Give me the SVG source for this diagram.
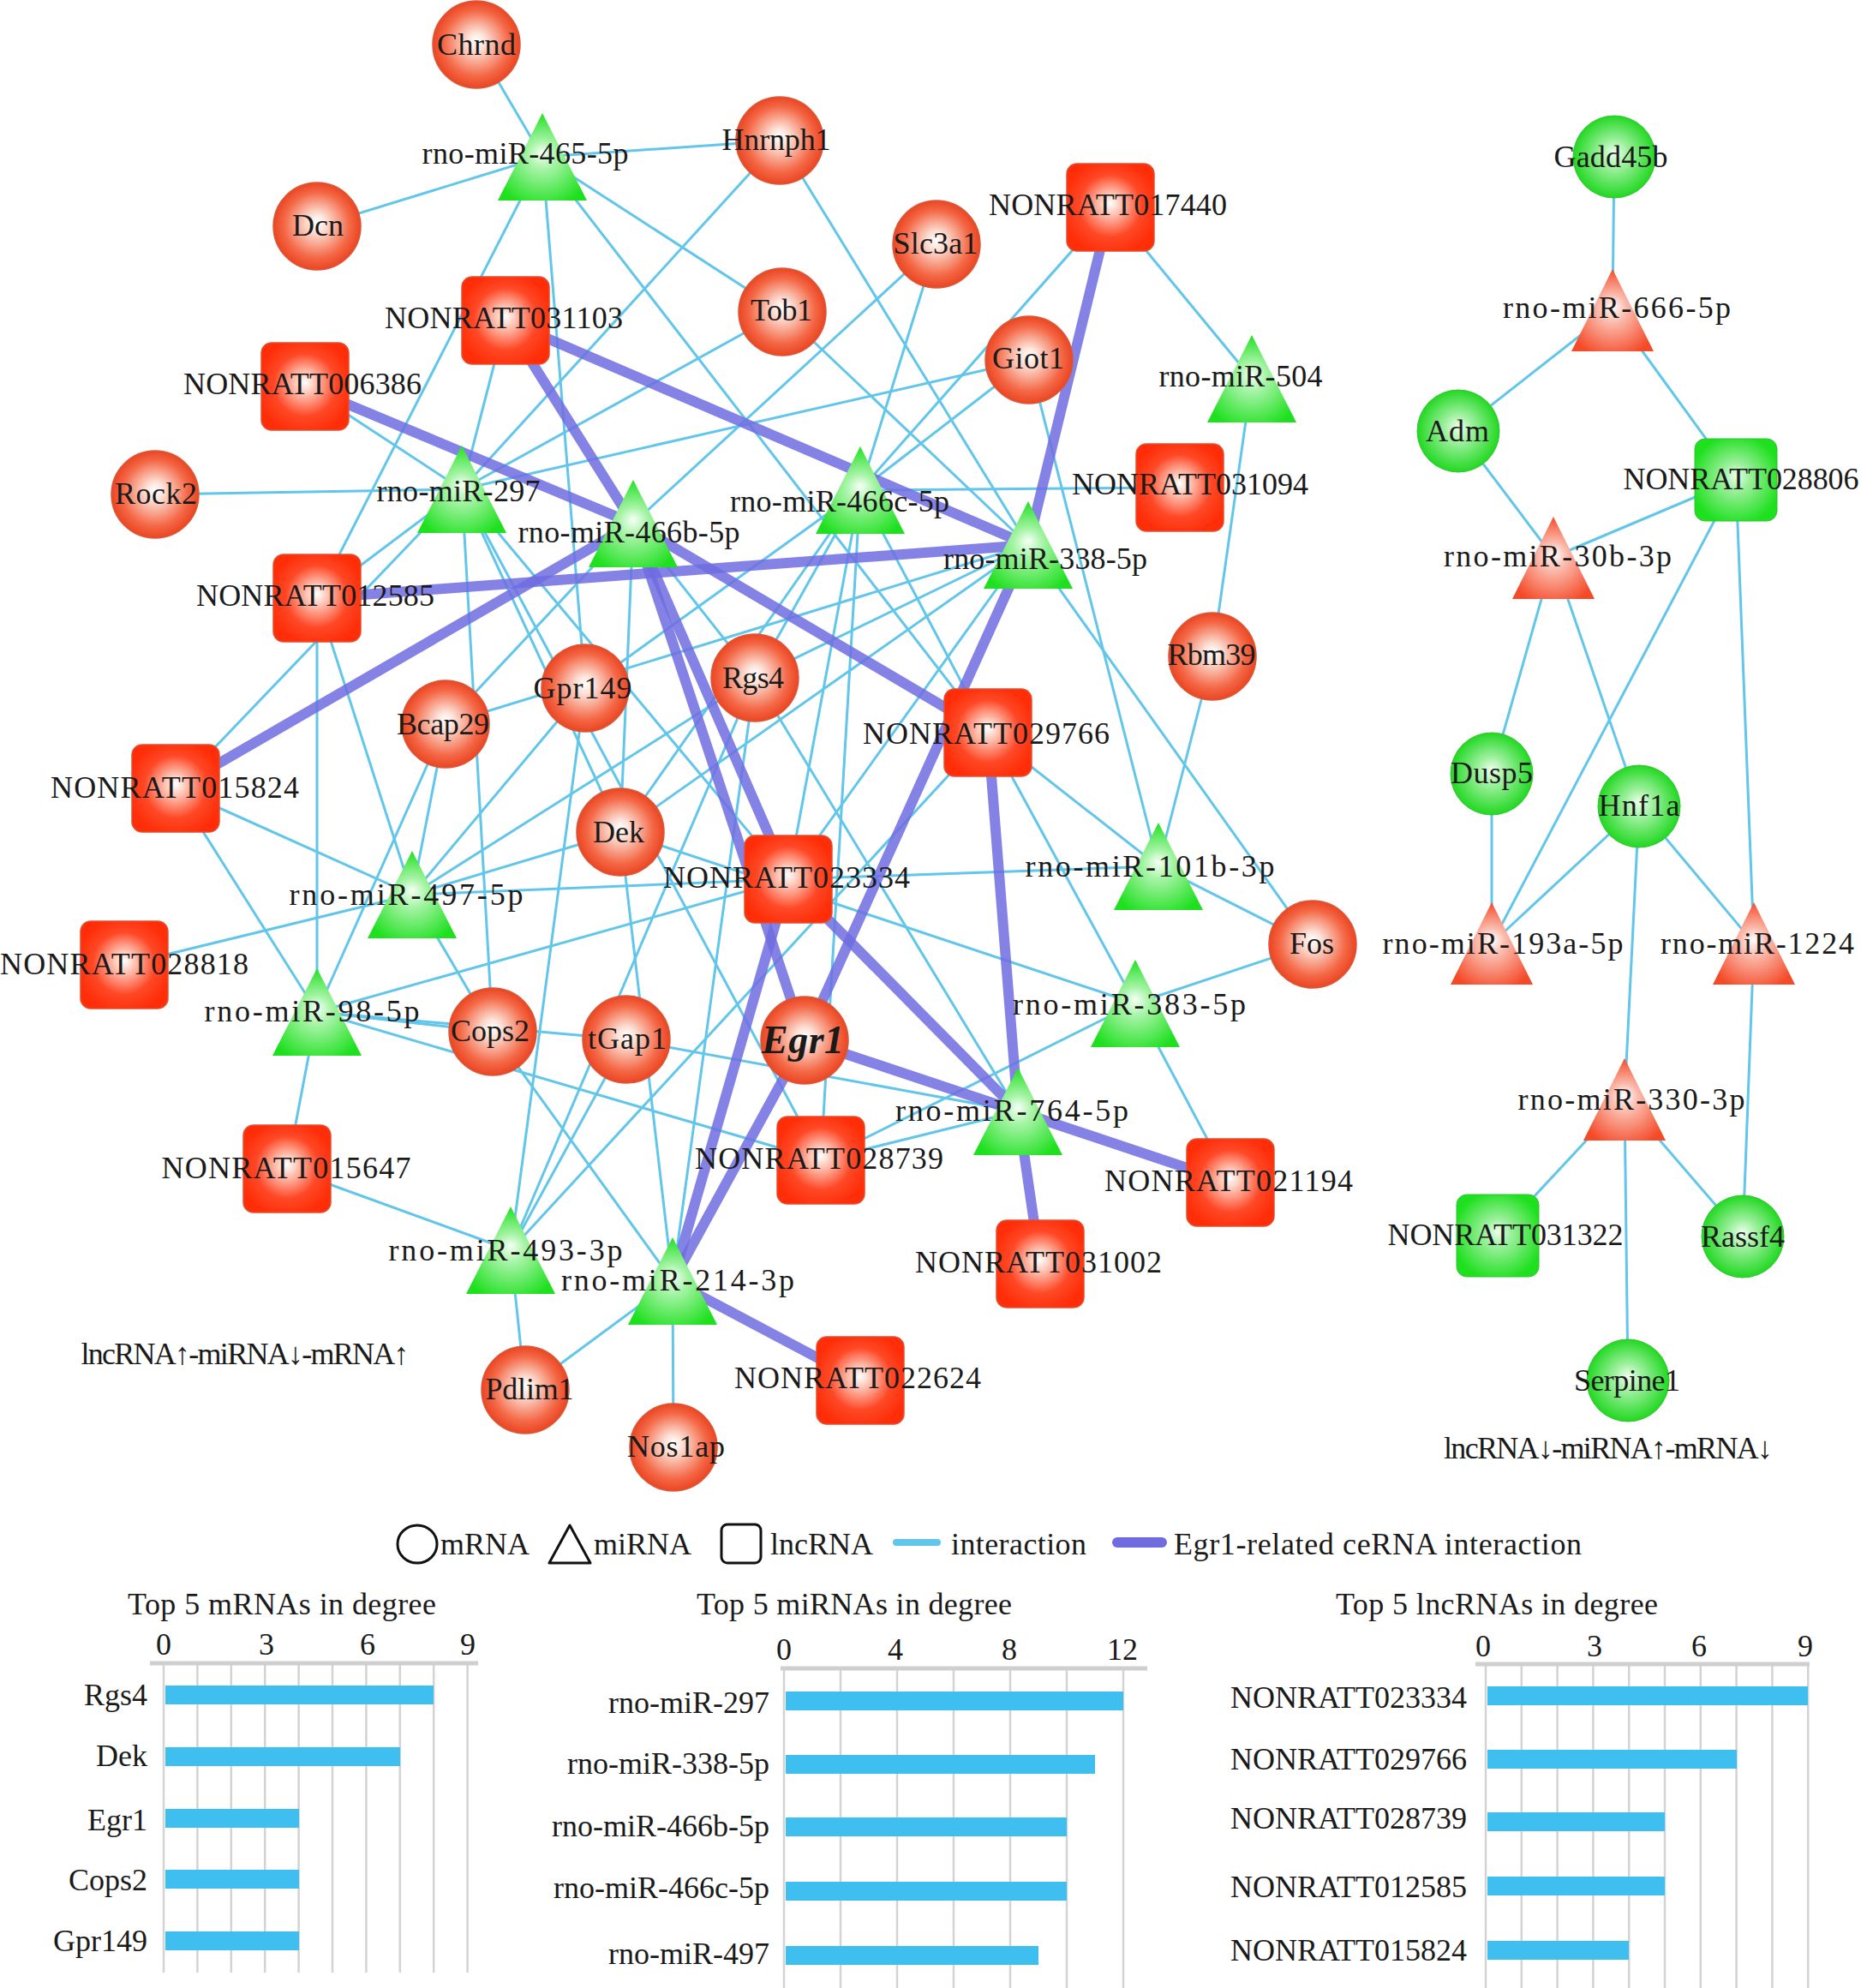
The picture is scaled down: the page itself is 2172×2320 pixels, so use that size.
<svg xmlns="http://www.w3.org/2000/svg" width="2172" height="2320" viewBox="0 0 2172 2320">
<defs>
<radialGradient id="gR" cx="0.5" cy="0.5" r="0.5" fx="0.5" fy="0.45">
<stop offset="0" stop-color="#ffffff"/><stop offset="0.2" stop-color="#fde2d8"/><stop offset="0.75" stop-color="#f46846"/><stop offset="1" stop-color="#eb4522"/>
</radialGradient>
<radialGradient id="gS" cx="0.5" cy="0.5" r="0.55" fx="0.5" fy="0.45">
<stop offset="0" stop-color="#ffffff"/><stop offset="0.15" stop-color="#ffd8cc"/><stop offset="0.65" stop-color="#ff4826"/><stop offset="1" stop-color="#ff2e08"/>
</radialGradient>
<radialGradient id="gG" cx="0.5" cy="0.55" r="0.55" fx="0.5" fy="0.45">
<stop offset="0" stop-color="#f6fff6"/><stop offset="0.3" stop-color="#a6f4a6"/><stop offset="1" stop-color="#1fe01f"/>
</radialGradient>
<radialGradient id="gRT" cx="0.5" cy="0.55" r="0.55" fx="0.5" fy="0.45">
<stop offset="0" stop-color="#ffffff"/><stop offset="0.3" stop-color="#fbbcae"/><stop offset="1" stop-color="#f44a28"/>
</radialGradient>
<radialGradient id="gGC" cx="0.5" cy="0.5" r="0.5" fx="0.5" fy="0.45">
<stop offset="0" stop-color="#eeffee"/><stop offset="0.35" stop-color="#9cf09c"/><stop offset="1" stop-color="#22d822"/>
</radialGradient>
<radialGradient id="gGS" cx="0.5" cy="0.5" r="0.55" fx="0.5" fy="0.45">
<stop offset="0" stop-color="#eeffee"/><stop offset="0.3" stop-color="#9cf09c"/><stop offset="1" stop-color="#1ee01e"/>
</radialGradient>
</defs>
<style>
.e{stroke:#62c6ea;stroke-width:3;fill:none}
.t{stroke:#6f6ce0;stroke-width:12;stroke-opacity:0.85;stroke-linecap:round}
.cr{fill:url(#gR);stroke:#d8583a;stroke-width:1.5}
.sq{fill:url(#gS);stroke:#e05030;stroke-width:1.5}
.tg{fill:url(#gG)}
.tr{fill:url(#gRT)}
.cg{fill:url(#gGC);stroke:#33c433;stroke-width:1}
.sg{fill:url(#gGS);stroke:#33c433;stroke-width:1}
text{font-family:"Liberation Serif","Times New Roman",serif;font-size:36px;fill:#1a1a1a}
.l{text-anchor:middle}
.r{text-anchor:end}
.grid{stroke:#d3d3d3;stroke-width:2.5}
.ax{stroke:#cfcfcf;stroke-width:5}
.bar{fill:#3ebff0}
</style>
<rect width="2172" height="2320" fill="#ffffff"/>
<g id="edges">
<g id="thin">
<line class="e" x1="633" y1="183" x2="556" y2="52"/>
<line class="e" x1="633" y1="183" x2="370" y2="264"/>
<line class="e" x1="633" y1="183" x2="910" y2="164"/>
<line class="e" x1="633" y1="183" x2="913" y2="364"/>
<line class="e" x1="633" y1="183" x2="370" y2="698"/>
<line class="e" x1="633" y1="183" x2="683" y2="803"/>
<line class="e" x1="633" y1="183" x2="1153" y2="855"/>
<line class="e" x1="1461" y1="442" x2="1296" y2="242"/>
<line class="e" x1="1461" y1="442" x2="1415" y2="766"/>
<line class="e" x1="539" y1="571" x2="181" y2="577"/>
<line class="e" x1="539" y1="571" x2="910" y2="164"/>
<line class="e" x1="539" y1="571" x2="913" y2="364"/>
<line class="e" x1="539" y1="571" x2="1201" y2="420"/>
<line class="e" x1="539" y1="571" x2="356" y2="451"/>
<line class="e" x1="539" y1="571" x2="370" y2="698"/>
<line class="e" x1="539" y1="571" x2="205" y2="920"/>
<line class="e" x1="539" y1="571" x2="575" y2="1204"/>
<line class="e" x1="539" y1="571" x2="724" y2="971"/>
<line class="e" x1="539" y1="571" x2="958" y2="1354"/>
<line class="e" x1="539" y1="571" x2="920" y2="1026"/>
<line class="e" x1="539" y1="571" x2="590" y2="374"/>
<line class="e" x1="739" y1="611" x2="1093" y2="285"/>
<line class="e" x1="739" y1="611" x2="520" y2="845"/>
<line class="e" x1="739" y1="611" x2="881" y2="791"/>
<line class="e" x1="739" y1="611" x2="724" y2="971"/>
<line class="e" x1="1004" y1="572" x2="1296" y2="242"/>
<line class="e" x1="1004" y1="572" x2="1201" y2="420"/>
<line class="e" x1="1004" y1="572" x2="1093" y2="285"/>
<line class="e" x1="1004" y1="572" x2="881" y2="791"/>
<line class="e" x1="1004" y1="572" x2="1153" y2="855"/>
<line class="e" x1="1004" y1="572" x2="683" y2="803"/>
<line class="e" x1="1004" y1="572" x2="724" y2="971"/>
<line class="e" x1="1004" y1="572" x2="920" y2="1026"/>
<line class="e" x1="1004" y1="572" x2="958" y2="1354"/>
<line class="e" x1="1004" y1="572" x2="1377" y2="569"/>
<line class="e" x1="1200" y1="636" x2="910" y2="164"/>
<line class="e" x1="1200" y1="636" x2="913" y2="364"/>
<line class="e" x1="1200" y1="636" x2="881" y2="791"/>
<line class="e" x1="1200" y1="636" x2="520" y2="845"/>
<line class="e" x1="1200" y1="636" x2="1532" y2="1102"/>
<line class="e" x1="1200" y1="636" x2="724" y2="971"/>
<line class="e" x1="1200" y1="636" x2="920" y2="1026"/>
<line class="e" x1="1352" y1="1011" x2="1201" y2="420"/>
<line class="e" x1="1352" y1="1011" x2="1415" y2="766"/>
<line class="e" x1="1352" y1="1011" x2="1532" y2="1102"/>
<line class="e" x1="1352" y1="1011" x2="1153" y2="855"/>
<line class="e" x1="1352" y1="1011" x2="920" y2="1026"/>
<line class="e" x1="481" y1="1044" x2="370" y2="698"/>
<line class="e" x1="481" y1="1044" x2="205" y2="920"/>
<line class="e" x1="481" y1="1044" x2="145" y2="1126"/>
<line class="e" x1="481" y1="1044" x2="520" y2="845"/>
<line class="e" x1="481" y1="1044" x2="683" y2="803"/>
<line class="e" x1="481" y1="1044" x2="575" y2="1204"/>
<line class="e" x1="481" y1="1044" x2="881" y2="791"/>
<line class="e" x1="481" y1="1044" x2="724" y2="971"/>
<line class="e" x1="481" y1="1044" x2="920" y2="1026"/>
<line class="e" x1="370" y1="1181" x2="370" y2="698"/>
<line class="e" x1="370" y1="1181" x2="205" y2="920"/>
<line class="e" x1="370" y1="1181" x2="335" y2="1364"/>
<line class="e" x1="370" y1="1181" x2="520" y2="845"/>
<line class="e" x1="370" y1="1181" x2="575" y2="1204"/>
<line class="e" x1="370" y1="1181" x2="731" y2="1213"/>
<line class="e" x1="370" y1="1181" x2="958" y2="1354"/>
<line class="e" x1="370" y1="1181" x2="920" y2="1026"/>
<line class="e" x1="1325" y1="1171" x2="1153" y2="855"/>
<line class="e" x1="1325" y1="1171" x2="1532" y2="1102"/>
<line class="e" x1="1325" y1="1171" x2="1436" y2="1380"/>
<line class="e" x1="1325" y1="1171" x2="958" y2="1354"/>
<line class="e" x1="1325" y1="1171" x2="724" y2="971"/>
<line class="e" x1="1188" y1="1297" x2="958" y2="1354"/>
<line class="e" x1="1188" y1="1297" x2="881" y2="791"/>
<line class="e" x1="1188" y1="1297" x2="731" y2="1213"/>
<line class="e" x1="596" y1="1459" x2="335" y2="1364"/>
<line class="e" x1="596" y1="1459" x2="613" y2="1622"/>
<line class="e" x1="596" y1="1459" x2="683" y2="803"/>
<line class="e" x1="596" y1="1459" x2="731" y2="1213"/>
<line class="e" x1="596" y1="1459" x2="881" y2="791"/>
<line class="e" x1="596" y1="1459" x2="1153" y2="855"/>
<line class="e" x1="785" y1="1495" x2="786" y2="1689"/>
<line class="e" x1="785" y1="1495" x2="613" y2="1622"/>
<line class="e" x1="785" y1="1495" x2="575" y2="1204"/>
<line class="e" x1="785" y1="1495" x2="881" y2="791"/>
<line class="e" x1="785" y1="1495" x2="724" y2="971"/>
<line class="e" x1="1884" y1="183" x2="1882" y2="362"/>
<line class="e" x1="1882" y1="362" x2="1702" y2="503"/>
<line class="e" x1="1882" y1="362" x2="2026" y2="560"/>
<line class="e" x1="1702" y1="503" x2="1813" y2="650"/>
<line class="e" x1="2026" y1="560" x2="1813" y2="650"/>
<line class="e" x1="1813" y1="650" x2="1741" y2="903"/>
<line class="e" x1="1813" y1="650" x2="1913" y2="941"/>
<line class="e" x1="2026" y1="560" x2="1741" y2="1101"/>
<line class="e" x1="2026" y1="560" x2="2047" y2="1101"/>
<line class="e" x1="1741" y1="903" x2="1741" y2="1101"/>
<line class="e" x1="1913" y1="941" x2="1741" y2="1101"/>
<line class="e" x1="1913" y1="941" x2="2047" y2="1101"/>
<line class="e" x1="1913" y1="941" x2="1896" y2="1283"/>
<line class="e" x1="2047" y1="1101" x2="2034" y2="1443"/>
<line class="e" x1="1896" y1="1283" x2="1748" y2="1442"/>
<line class="e" x1="1896" y1="1283" x2="2034" y2="1443"/>
<line class="e" x1="1896" y1="1283" x2="1900" y2="1611"/>
</g>
<g id="thick">
<line class="t" x1="590" y1="374" x2="739" y2="611"/>
<line class="t" x1="590" y1="374" x2="1200" y2="636"/>
<line class="t" x1="356" y1="451" x2="739" y2="611"/>
<line class="t" x1="370" y1="698" x2="1200" y2="636"/>
<line class="t" x1="205" y1="920" x2="739" y2="611"/>
<line class="t" x1="1296" y1="242" x2="1200" y2="636"/>
<line class="t" x1="739" y1="611" x2="1153" y2="855"/>
<line class="t" x1="739" y1="611" x2="939" y2="1214"/>
<line class="t" x1="739" y1="611" x2="920" y2="1026"/>
<line class="t" x1="1200" y1="636" x2="939" y2="1214"/>
<line class="t" x1="1153" y1="855" x2="1188" y2="1297"/>
<line class="t" x1="920" y1="1026" x2="1188" y2="1297"/>
<line class="t" x1="920" y1="1026" x2="785" y2="1495"/>
<line class="t" x1="939" y1="1214" x2="1188" y2="1297"/>
<line class="t" x1="939" y1="1214" x2="785" y2="1495"/>
<line class="t" x1="1188" y1="1297" x2="1436" y2="1380"/>
<line class="t" x1="1188" y1="1297" x2="1214" y2="1475"/>
<line class="t" x1="785" y1="1495" x2="1004" y2="1611"/>
</g>
</g>
<g id="nodes">
<g id="Chrnd"><circle class="cr" cx="556" cy="52" r="51"/><text class="l" x="556" y="64" textLength="92">Chrnd</text></g>
<g id="Hnrnph1"><circle class="cr" cx="910" cy="164" r="51"/><text class="l" x="906" y="175" textLength="127">Hnrnph1</text></g>
<g id="Dcn"><circle class="cr" cx="370" cy="264" r="51"/><text class="l" x="371" y="275">Dcn</text></g>
<g id="Slc3a1"><circle class="cr" cx="1093" cy="285" r="51"/><text class="l" x="1092" y="296" textLength="99">Slc3a1</text></g>
<g id="Tob1"><circle class="cr" cx="913" cy="364" r="51"/><text class="l" x="912" y="374" textLength="72">Tob1</text></g>
<g id="Giot1"><circle class="cr" cx="1201" cy="420" r="51"/><text class="l" x="1200" y="430" textLength="84">Giot1</text></g>
<g id="Rock2"><circle class="cr" cx="181" cy="577" r="51"/><text class="l" x="182" y="588" textLength="96">Rock2</text></g>
<g id="Rbm39"><circle class="cr" cx="1415" cy="766" r="51"/><text class="l" x="1414" y="776" textLength="103">Rbm39</text></g>
<g id="Rgs4"><circle class="cr" cx="881" cy="791" r="51"/><text class="l" x="879" y="803" textLength="72">Rgs4</text></g>
<g id="Gpr149"><circle class="cr" cx="683" cy="803" r="51"/><text class="l" x="680" y="815" textLength="115">Gpr149</text></g>
<g id="Bcap29"><circle class="cr" cx="520" cy="845" r="51"/><text class="l" x="517" y="857" textLength="108">Bcap29</text></g>
<g id="Dek"><circle class="cr" cx="724" cy="971" r="51"/><text class="l" x="722" y="983">Dek</text></g>
<g id="Fos"><circle class="cr" cx="1532" cy="1102" r="51"/><text class="l" x="1531" y="1113">Fos</text></g>
<g id="Cops2"><circle class="cr" cx="575" cy="1204" r="51"/><text class="l" x="572" y="1215" textLength="92">Cops2</text></g>
<g id="tGap1"><circle class="cr" cx="731" cy="1213" r="51"/><text class="l" x="732" y="1224" textLength="92">tGap1</text></g>
<g id="Egr1"><circle class="cr" cx="939" cy="1214" r="51"/><text class="l" x="937" y="1229" textLength="96" style="font-weight:bold;font-style:italic;font-size:46px">Egr1</text></g>
<g id="Pdlim1"><circle class="cr" cx="613" cy="1622" r="51"/><text class="l" x="618" y="1633" textLength="103">Pdlim1</text></g>
<g id="Nos1ap"><circle class="cr" cx="786" cy="1689" r="51"/><text class="l" x="789" y="1700" textLength="114">Nos1ap</text></g>

<g id="NONRATT017440"><rect class="sq" x="1245" y="191" width="102" height="102" rx="12"/><text class="l" x="1293" y="251" textLength="278">NONRATT017440</text></g>
<g id="NONRATT031103"><rect class="sq" x="539" y="323" width="102" height="102" rx="12"/><text class="l" x="588" y="383" textLength="278">NONRATT031103</text></g>
<g id="NONRATT006386"><rect class="sq" x="305" y="400" width="102" height="102" rx="12"/><text class="l" x="353" y="460" textLength="278">NONRATT006386</text></g>
<g id="NONRATT031094"><rect class="sq" x="1326" y="518" width="102" height="102" rx="12"/><text class="l" x="1389" y="577" textLength="276">NONRATT031094</text></g>
<g id="NONRATT012585"><rect class="sq" x="319" y="647" width="102" height="102" rx="12"/><text class="l" x="368" y="707" textLength="278">NONRATT012585</text></g>
<g id="NONRATT029766"><rect class="sq" x="1102" y="804" width="102" height="102" rx="12"/><text class="l" x="1151" y="868" textLength="288">NONRATT029766</text></g>
<g id="NONRATT015824"><rect class="sq" x="154" y="869" width="102" height="102" rx="12"/><text class="l" x="204" y="931" textLength="290">NONRATT015824</text></g>
<g id="NONRATT023334"><rect class="sq" x="869" y="975" width="102" height="102" rx="12"/><text class="l" x="918" y="1036" textLength="288">NONRATT023334</text></g>
<g id="NONRATT028818"><rect class="sq" x="94" y="1075" width="102" height="102" rx="12"/><text class="l" x="145" y="1137" textLength="290">NONRATT028818</text></g>
<g id="NONRATT015647"><rect class="sq" x="284" y="1313" width="102" height="102" rx="12"/><text class="l" x="334" y="1375" textLength="291">NONRATT015647</text></g>
<g id="NONRATT028739"><rect class="sq" x="907" y="1303" width="102" height="102" rx="12"/><text class="l" x="956" y="1364" textLength="290">NONRATT028739</text></g>
<g id="NONRATT021194"><rect class="sq" x="1385" y="1329" width="102" height="102" rx="12"/><text class="l" x="1434" y="1390" textLength="290">NONRATT021194</text></g>
<g id="NONRATT031002"><rect class="sq" x="1163" y="1424" width="102" height="102" rx="12"/><text class="l" x="1212" y="1485" textLength="288">NONRATT031002</text></g>
<g id="NONRATT022624"><rect class="sq" x="953" y="1560" width="102" height="102" rx="12"/><text class="l" x="1001" y="1620" textLength="288">NONRATT022624</text></g>

<g id="miR-465-5p"><polygon class="tg" points="633,132 581,234 685,234"/><text class="l" x="613" y="191" textLength="241">rno-miR-465-5p</text></g>
<g id="miR-504"><polygon class="tg" points="1461,391 1409,493 1513,493"/><text class="l" x="1448" y="451" textLength="191">rno-miR-504</text></g>
<g id="miR-297"><polygon class="tg" points="539,520 487,622 591,622"/><text class="l" x="535" y="585" textLength="191">rno-miR-297</text></g>
<g id="miR-466b-5p"><polygon class="tg" points="739,560 687,662 791,662"/><text class="l" x="734" y="633" textLength="259">rno-miR-466b-5p</text></g>
<g id="miR-466c-5p"><polygon class="tg" points="1004,521 952,623 1056,623"/><text class="l" x="980" y="597" textLength="256">rno-miR-466c-5p</text></g>
<g id="miR-338-5p"><polygon class="tg" points="1200,585 1148,687 1252,687"/><text class="l" x="1220" y="664" textLength="238">rno-miR-338-5p</text></g>
<g id="miR-101b-3p"><polygon class="tg" points="1352,960 1300,1062 1404,1062"/><text class="l" x="1342" y="1023" textLength="291">rno-miR-101b-3p</text></g>
<g id="miR-383-5p"><polygon class="tg" points="1325,1120 1273,1222 1377,1222"/><text class="l" x="1318" y="1184" textLength="272">rno-miR-383-5p</text></g>
<g id="miR-497-5p"><polygon class="tg" points="481,993 429,1095 533,1095"/><text class="l" x="474" y="1056" textLength="273">rno-miR-497-5p</text></g>
<g id="miR-98-5p"><polygon class="tg" points="370,1130 318,1232 422,1232"/><text class="l" x="364" y="1192" textLength="251">rno-miR-98-5p</text></g>
<g id="miR-764-5p"><polygon class="tg" points="1188,1246 1136,1348 1240,1348"/><text class="l" x="1181" y="1308" textLength="272">rno-miR-764-5p</text></g>
<g id="miR-493-3p"><polygon class="tg" points="596,1408 544,1510 648,1510"/><text class="l" x="590" y="1471" textLength="273">rno-miR-493-3p</text></g>
<g id="miR-214-3p"><polygon class="tg" points="785,1444 733,1546 837,1546"/><text class="l" x="791" y="1506" textLength="272">rno-miR-214-3p</text></g>

<g id="Gadd45b"><circle class="cg" cx="1884" cy="183" r="48"/><text class="l" x="1880" y="195" textLength="133">Gadd45b</text></g>
<g id="Adm"><circle class="cg" cx="1702" cy="503" r="48"/><text class="l" x="1701" y="515" textLength="74">Adm</text></g>
<g id="Dusp5"><circle class="cg" cx="1741" cy="903" r="48"/><text class="l" x="1741" y="914" textLength="96">Dusp5</text></g>
<g id="Hnf1a"><circle class="cg" cx="1913" cy="941" r="48"/><text class="l" x="1913" y="952" textLength="95">Hnf1a</text></g>
<g id="Rassf4"><circle class="cg" cx="2034" cy="1443" r="48"/><text class="l" x="2034" y="1455" textLength="98">Rassf4</text></g>
<g id="Serpine1"><circle class="cg" cx="1900" cy="1611" r="48"/><text class="l" x="1899" y="1623" textLength="124">Serpine1</text></g>
<g id="NONRATT028806"><rect class="sg" x="1978" y="512" width="96" height="96" rx="12"/><text class="l" x="2032" y="571" textLength="275">NONRATT028806</text></g>
<g id="NONRATT031322"><rect class="sg" x="1700" y="1394" width="96" height="96" rx="12"/><text class="l" x="1757" y="1453" textLength="275">NONRATT031322</text></g>
<g id="miR-666-5p"><polygon class="tr" points="1882,314 1834,410 1930,410"/><text class="l" x="1887" y="371" textLength="266">rno-miR-666-5p</text></g>
<g id="miR-30b-3p"><polygon class="tr" points="1813,603 1765,699 1861,699"/><text class="l" x="1818" y="661" textLength="266">rno-miR-30b-3p</text></g>
<g id="miR-193a-5p"><polygon class="tr" points="1741,1053 1693,1149 1789,1149"/><text class="l" x="1754" y="1113" textLength="281">rno-miR-193a-5p</text></g>
<g id="miR-1224"><polygon class="tr" points="2047,1053 1999,1149 2095,1149"/><text class="l" x="2051" y="1113" textLength="226">rno-miR-1224</text></g>
<g id="miR-330-3p"><polygon class="tr" points="1896,1235 1848,1331 1944,1331"/><text class="l" x="1904" y="1295" textLength="265">rno-miR-330-3p</text></g>
</g>

<g id="group-labels">
<text class="l" x="286" y="1592" textLength="383">lncRNA↑-miRNA↓-mRNA↑</text>
<text class="l" x="1877" y="1702" textLength="384">lncRNA↓-miRNA↑-mRNA↓</text>
</g>

<g id="legend">
<ellipse cx="487" cy="1802" rx="23" ry="22" fill="none" stroke="#111" stroke-width="3"/>
<text x="514" y="1814">mRNA</text>
<polygon points="665,1780 641,1824 689,1824" fill="none" stroke="#111" stroke-width="3" stroke-linejoin="round"/>
<text x="693" y="1814">miRNA</text>
<rect x="842" y="1779" width="46" height="45" rx="7" fill="none" stroke="#111" stroke-width="3"/>
<text x="899" y="1814">lncRNA</text>
<line x1="1046" y1="1800" x2="1094" y2="1800" stroke="#62c6ea" stroke-width="8" stroke-linecap="round"/>
<text x="1110" y="1814" textLength="158">interaction</text>
<line x1="1304" y1="1800" x2="1356" y2="1800" stroke="#6f6ce0" stroke-width="12" stroke-linecap="round"/>
<text x="1370" y="1814" textLength="476">Egr1-related ceRNA interaction</text>
</g>

<g id="chart-mrna">
<text class="l" x="329" y="1884" textLength="360">Top 5 mRNAs in degree</text>
<g class="grid">
<line x1="191" y1="1941" x2="191" y2="2302"/><line x1="230.4" y1="1941" x2="230.4" y2="2302"/><line x1="269.8" y1="1941" x2="269.8" y2="2302"/><line x1="309.2" y1="1941" x2="309.2" y2="2302"/><line x1="348.6" y1="1941" x2="348.6" y2="2302"/><line x1="388" y1="1941" x2="388" y2="2302"/><line x1="427.4" y1="1941" x2="427.4" y2="2302"/><line x1="466.8" y1="1941" x2="466.8" y2="2302"/><line x1="506.2" y1="1941" x2="506.2" y2="2302"/><line x1="545.6" y1="1941" x2="545.6" y2="2302"/>
</g>
<line class="ax" x1="175" y1="1941" x2="558" y2="1941"/>
<text class="l" x="191" y="1931">0</text><text class="l" x="311" y="1931">3</text><text class="l" x="429" y="1931">6</text><text class="l" x="546" y="1931">9</text>
<rect class="bar" x="193" y="1967" width="313" height="22"/>
<rect class="bar" x="193" y="2039" width="274" height="22"/>
<rect class="bar" x="193" y="2111" width="156" height="22"/>
<rect class="bar" x="193" y="2182" width="156" height="22"/>
<rect class="bar" x="193" y="2254" width="156" height="22"/>
<text class="r" x="172" y="1990">Rgs4</text>
<text class="r" x="172" y="2061">Dek</text>
<text class="r" x="172" y="2136">Egr1</text>
<text class="r" x="172" y="2206">Cops2</text>
<text class="r" x="172" y="2277">Gpr149</text>
</g>

<g id="chart-mirna">
<text class="l" x="997" y="1884" textLength="368">Top 5 miRNAs in degree</text>
<g class="grid">
<line x1="915" y1="1947" x2="915" y2="2320"/><line x1="981" y1="1947" x2="981" y2="2320"/><line x1="1047" y1="1947" x2="1047" y2="2320"/><line x1="1113" y1="1947" x2="1113" y2="2320"/><line x1="1179" y1="1947" x2="1179" y2="2320"/><line x1="1245" y1="1947" x2="1245" y2="2320"/><line x1="1311" y1="1947" x2="1311" y2="2320"/>
</g>
<line class="ax" x1="911" y1="1947" x2="1339" y2="1947"/>
<text class="l" x="915" y="1937">0</text><text class="l" x="1045" y="1937">4</text><text class="l" x="1178" y="1937">8</text><text class="l" x="1310" y="1937">12</text>
<rect class="bar" x="917" y="1974" width="394" height="22"/>
<rect class="bar" x="917" y="2048" width="361" height="22"/>
<rect class="bar" x="917" y="2121" width="328" height="22"/>
<rect class="bar" x="917" y="2196" width="328" height="22"/>
<rect class="bar" x="917" y="2271" width="295" height="22"/>
<text class="r" x="898" y="1999">rno-miR-297</text>
<text class="r" x="898" y="2070">rno-miR-338-5p</text>
<text class="r" x="898" y="2143">rno-miR-466b-5p</text>
<text class="r" x="898" y="2215">rno-miR-466c-5p</text>
<text class="r" x="898" y="2292">rno-miR-497</text>
</g>

<g id="chart-lncrna">
<text class="l" x="1747" y="1884" textLength="376">Top 5 lncRNAs in degree</text>
<g class="grid">
<line x1="1734" y1="1942" x2="1734" y2="2320"/><line x1="1775.8" y1="1942" x2="1775.8" y2="2320"/><line x1="1817.6" y1="1942" x2="1817.6" y2="2320"/><line x1="1859.4" y1="1942" x2="1859.4" y2="2320"/><line x1="1901.2" y1="1942" x2="1901.2" y2="2320"/><line x1="1943" y1="1942" x2="1943" y2="2320"/><line x1="1984.8" y1="1942" x2="1984.8" y2="2320"/><line x1="2026.6" y1="1942" x2="2026.6" y2="2320"/><line x1="2068.4" y1="1942" x2="2068.4" y2="2320"/><line x1="2110.2" y1="1942" x2="2110.2" y2="2320"/>
</g>
<line class="ax" x1="1722" y1="1942" x2="2112" y2="1942"/>
<text class="l" x="1731" y="1933">0</text><text class="l" x="1861" y="1933">3</text><text class="l" x="1983" y="1933">6</text><text class="l" x="2107" y="1933">9</text>
<rect class="bar" x="1736" y="1968" width="374" height="22"/>
<rect class="bar" x="1736" y="2042" width="291" height="22"/>
<rect class="bar" x="1736" y="2115" width="207" height="22"/>
<rect class="bar" x="1736" y="2190" width="207" height="22"/>
<rect class="bar" x="1736" y="2265" width="165" height="22"/>
<text class="r" x="1712" y="1993">NONRATT023334</text>
<text class="r" x="1712" y="2065">NONRATT029766</text>
<text class="r" x="1712" y="2134">NONRATT028739</text>
<text class="r" x="1712" y="2214">NONRATT012585</text>
<text class="r" x="1712" y="2288">NONRATT015824</text>
</g>
</svg>
